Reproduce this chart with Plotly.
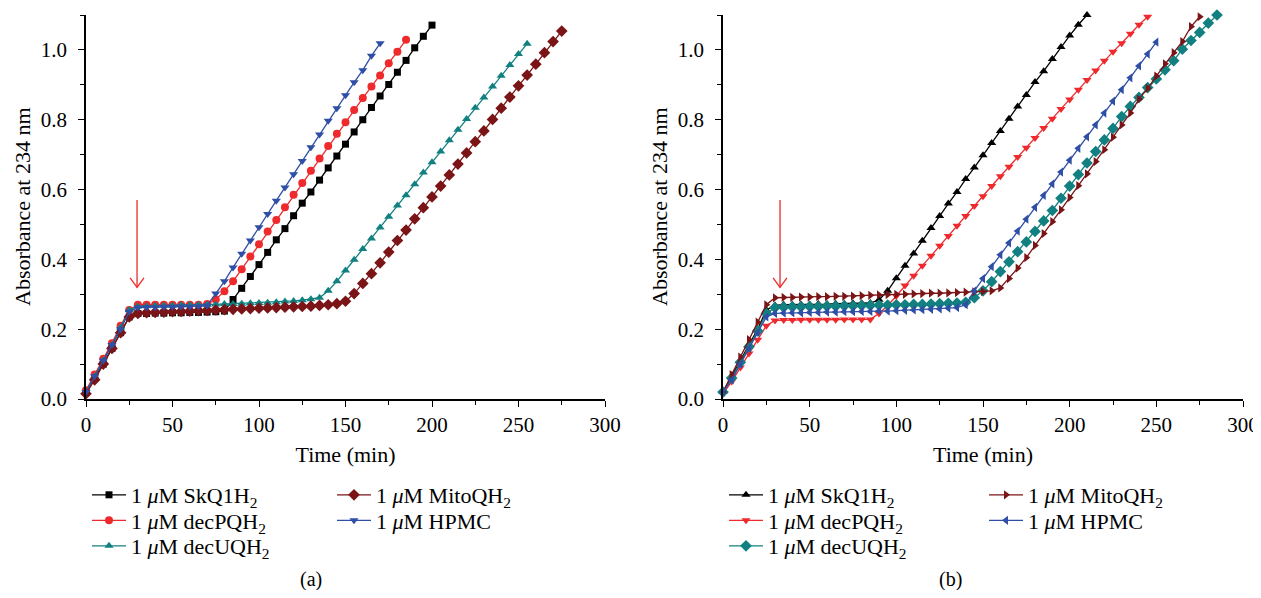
import plotly.graph_objects as go

# ---------------- data ----------------
labels = ["1 <i>μ</i>M SkQ1H<sub>2</sub>", "1 <i>μ</i>M decPQH<sub>2</sub>",
          "1 <i>μ</i>M decUQH<sub>2</sub>", "1 <i>μ</i>M MitoQH<sub>2</sub>",
          "1 <i>μ</i>M HPMC"]

# Panel (a)
t_a_skq = list(range(0, 205, 5))
a_skq = [0.02, 0.06, 0.10, 0.145, 0.19, 0.235,
         0.245, 0.245, 0.246, 0.246, 0.247, 0.247, 0.248, 0.248, 0.249, 0.250, 0.252,
         0.285, 0.317, 0.351, 0.385, 0.42, 0.456, 0.488, 0.525, 0.561, 0.593, 0.627, 0.662,
         0.696, 0.730, 0.765, 0.80, 0.835, 0.868, 0.901, 0.936, 0.97, 1.006, 1.039, 1.071]

t_a_pq = list(range(0, 190, 5))
a_pq = [0.025, 0.07, 0.115, 0.16, 0.21, 0.255,
        0.27, 0.27, 0.27, 0.27, 0.27, 0.27, 0.27, 0.27, 0.272,
        0.285, 0.309, 0.337, 0.372, 0.408, 0.443, 0.48, 0.513, 0.549, 0.585, 0.619, 0.654,
        0.689, 0.725, 0.76, 0.793, 0.828, 0.862, 0.895, 0.927, 0.962, 0.995, 1.029]

t_a_uq = list(range(0, 260, 5))
a_uq = [0.02, 0.065, 0.11, 0.155, 0.205, 0.255,
        0.265, 0.266, 0.267, 0.268, 0.268, 0.269, 0.269, 0.270, 0.270, 0.271, 0.272, 0.272,
        0.273, 0.274, 0.275, 0.276, 0.277, 0.279, 0.281, 0.283, 0.286, 0.29,
        0.31, 0.337, 0.368, 0.399, 0.43, 0.46, 0.491, 0.522, 0.554, 0.584, 0.615, 0.649,
        0.678, 0.709, 0.741, 0.771, 0.802, 0.834, 0.864, 0.895, 0.926, 0.957, 0.988, 1.018]

t_a_mito = list(range(0, 280, 5))
a_mito = [0.015, 0.055, 0.10, 0.145, 0.19, 0.235,
          0.245, 0.247, 0.248, 0.249, 0.250, 0.251, 0.252, 0.253, 0.254, 0.255, 0.256, 0.257,
          0.258, 0.259, 0.260, 0.261, 0.262, 0.263, 0.264, 0.265, 0.266, 0.268, 0.270, 0.273, 0.28,
          0.302, 0.331, 0.359, 0.39, 0.421, 0.454, 0.484, 0.516, 0.548, 0.579, 0.61, 0.642,
          0.673, 0.705, 0.737, 0.768, 0.801, 0.833, 0.865, 0.897, 0.928, 0.959, 0.992, 1.024, 1.054]

t_a_hpmc = list(range(0, 175, 5))
a_hpmc = [0.02, 0.065, 0.11, 0.155, 0.2, 0.25,
          0.262, 0.263, 0.263, 0.264, 0.264, 0.265, 0.265, 0.266, 0.268,
          0.302, 0.337, 0.377, 0.416, 0.454, 0.492, 0.53, 0.568, 0.606, 0.644, 0.682, 0.721,
          0.758, 0.797, 0.833, 0.87, 0.907, 0.942, 0.983, 1.019]

# Panel (b)
t_b_skq = list(range(0, 215, 5))
b_skq = [0.02, 0.065, 0.11, 0.155, 0.2, 0.255,
         0.268, 0.27, 0.27, 0.271, 0.271, 0.272, 0.272, 0.273, 0.273, 0.274, 0.274, 0.275, 0.284,
         0.31, 0.346, 0.382, 0.417, 0.453, 0.49, 0.524, 0.56, 0.593, 0.63, 0.663, 0.698, 0.733,
         0.768, 0.803, 0.838, 0.871, 0.908, 0.939, 0.974, 1.008, 1.041, 1.072, 1.10]

t_b_pq = list(range(0, 250, 5))
b_pq = [0.015, 0.05, 0.09, 0.13, 0.17, 0.21,
        0.225, 0.226, 0.226, 0.227, 0.227, 0.227, 0.227, 0.227, 0.228, 0.228, 0.228, 0.228,
        0.245, 0.268, 0.295, 0.325, 0.353, 0.382, 0.41, 0.439, 0.467, 0.496, 0.524, 0.553,
        0.581, 0.61, 0.638, 0.665, 0.693, 0.72, 0.748, 0.776, 0.803, 0.831, 0.858, 0.886,
        0.914, 0.941, 0.969, 0.995, 1.019, 1.046, 1.072, 1.095]

t_b_uq = list(range(0, 290, 5))
b_uq = [0.02, 0.06, 0.105, 0.15, 0.195, 0.245,
        0.262, 0.263, 0.264, 0.264, 0.265, 0.265, 0.266, 0.266, 0.267, 0.267, 0.268, 0.268,
        0.269, 0.269, 0.27, 0.27, 0.271, 0.271, 0.272, 0.273, 0.274, 0.275, 0.277,
        0.29, 0.31, 0.336, 0.365, 0.393, 0.422, 0.45, 0.48, 0.51, 0.54, 0.575, 0.61, 0.643,
        0.676, 0.709, 0.742, 0.775, 0.809, 0.838, 0.864, 0.892, 0.917, 0.943, 0.969, 1.002,
        1.027, 1.05, 1.077, 1.10]

t_b_mito = list(range(0, 280, 5))
b_mito = [0.02, 0.07, 0.12, 0.17, 0.22, 0.27,
          0.290, 0.291, 0.291, 0.292, 0.292, 0.293, 0.293, 0.294, 0.294, 0.295, 0.296, 0.297,
          0.298, 0.299, 0.300, 0.300, 0.301, 0.302, 0.303, 0.303, 0.304, 0.305, 0.306, 0.307,
          0.308, 0.310, 0.318,
          0.345, 0.375, 0.405, 0.44, 0.474, 0.508, 0.542, 0.577, 0.611, 0.645, 0.68, 0.714,
          0.75, 0.785, 0.819, 0.859, 0.89, 0.925, 0.96, 0.992, 1.024, 1.067, 1.095]

t_b_hpmc = list(range(0, 255, 5))
b_hpmc = [0.02, 0.055, 0.1, 0.145, 0.19, 0.235,
          0.245, 0.246, 0.247, 0.247, 0.248, 0.248, 0.249, 0.249, 0.250, 0.250, 0.251, 0.251,
          0.252, 0.252, 0.253, 0.254, 0.255, 0.256, 0.257, 0.258, 0.260, 0.262, 0.27,
          0.31, 0.345, 0.379, 0.413, 0.447, 0.481, 0.515, 0.549, 0.583, 0.616, 0.650, 0.684,
          0.718, 0.751, 0.785, 0.819, 0.853, 0.886, 0.920, 0.954, 0.988, 1.022]

# arrow marking the addition time (x in min, y from/to absorbance)
arrow_a = [29.5, 0.57, 0.32]
arrow_b = [32.9, 0.57, 0.32]

x_ticks = [0, 50, 100, 150, 200, 250, 300]
y_ticks = [0.0, 0.2, 0.4, 0.6, 0.8, 1.0]
x_title = "Time (min)"
y_title = "Absorbance at 234 nm"

# ---------------- styling ----------------
BLACK, RED, TEAL, MAROON, BLUE = "#000000", "#EE2A2D", "#128080", "#7A1416", "#2F4FA6"
FONT = "Liberation Serif"
FS_TICK = 21
FS_TITLE = 22
FS_LEG = 22

# page body has an 8px margin: figure placed at (8, 8); keep it inside the window
OFF = 8
W, H = 1261 - OFF, 598 - 2 * OFF
PL, PR, PT, PB = 86, 1243, 15, 399          # plot-area edges in page pixels
ML, MR, MT, MB = PL - OFF, W - (PR - OFF), PT - OFF, H - (PB - OFF)
PW = W - ML - MR
PH = H - MT - MB


def pxx(p):      # page pixel -> paper x
    return (p - OFF - ML) / PW


def pxy(p):      # page pixel -> paper y
    return (H - MB - (p - OFF)) / PH


def cx(p):       # page pixel -> container x
    return (p - OFF) / W


def cy(p):       # page pixel -> container y
    return (H - (p - OFF)) / H


fig = go.Figure()

panel_a = [
    (t_a_skq, a_skq, BLACK, "square", 7),
    (t_a_pq, a_pq, RED, "circle", 8),
    (t_a_uq, a_uq, TEAL, "triangle-up", 8),
    (t_a_mito, a_mito, MAROON, "diamond", 9),
    (t_a_hpmc, a_hpmc, BLUE, "triangle-down", 8),
]
panel_b = [
    (t_b_skq, b_skq, BLACK, "triangle-up", 8),
    (t_b_pq, b_pq, RED, "triangle-down", 8),
    (t_b_uq, b_uq, TEAL, "diamond", 9),
    (t_b_mito, b_mito, MAROON, "triangle-right", 8),
    (t_b_hpmc, b_hpmc, BLUE, "triangle-left", 8),
]

# legend box left edge and row centre, page pixels
leg_cols_a = [87, 87, 87, 332, 332]
leg_cols_b = [724, 724, 724, 984, 984]
leg_rows = [495, 520.5, 546, 495, 520.5]

legend_layouts = {}
k = 1
for panel, xa, ya, cols in [(panel_a, "x", "y", leg_cols_a), (panel_b, "x2", "y2", leg_cols_b)]:
    for i, (t, v, col, sym, sz) in enumerate(panel):
        name = "legend" if k == 1 else f"legend{k}"
        fig.add_trace(go.Scatter(
            x=t, y=v, name=labels[i], mode="lines+markers",
            line=dict(color=col, width=1.3),
            marker=dict(color=col, symbol=sym, size=sz, line=dict(width=0)),
            xaxis=xa, yaxis=ya, cliponaxis=False, legend=name, showlegend=True))
        legend_layouts[name] = dict(
            x=cx(cols[i]), y=cy(leg_rows[i]), xref="container", yref="container",
            xanchor="left", yanchor="middle",
            bgcolor="rgba(0,0,0,0)", borderwidth=0, itemwidth=34,
            font=dict(family=FONT, size=FS_LEG, color="black"), tracegroupgap=0)
        k += 1

axis_common = dict(showline=True, linecolor="black", linewidth=1.5, ticks="outside",
                   ticklen=6, tickwidth=1.3, tickcolor="black", showgrid=False,
                   zeroline=False, tickfont=dict(family=FONT, size=FS_TICK, color="black"),
                   mirror=False, automargin=False, ticklabeloverflow="allow")

dom_a = [0, pxx(605)]
dom_b = [pxx(723), 1]

xaxis_common = dict(axis_common, range=[0, 300], tickvals=x_ticks,
                    minor=dict(ticks="outside", ticklen=4, tickwidth=1.2, tickcolor="black", dtick=25),
                    title=dict(text=x_title, font=dict(family=FONT, size=FS_TITLE, color="black"),
                               standoff=11))
yaxis_common = dict(axis_common, range=[0, 1.1], tickvals=y_ticks, tickformat=".1f",
                    ticklabelstandoff=7,
                    minor=dict(ticks="outside", ticklen=4, tickwidth=1.2, tickcolor="black", dtick=0.1))

shapes = []
for (ax, ay, arr) in [("x", "y", arrow_a), ("x2", "y2", arrow_b)]:
    x0, yt, yb = arr
    shapes.append(dict(type="line", xref=ax, yref=ay, x0=x0, x1=x0, y0=yt, y1=yb,
                       line=dict(color="#EE2A2D", width=1.3)))
    shapes.append(dict(type="path", xref=ax, yref=ay,
                       path=f"M {x0-4} {yb+0.027} L {x0} {yb} L {x0+4} {yb+0.027}",
                       line=dict(color="#EE2A2D", width=1.3)))

annotations = []
for px_x in (22, 659):
    annotations.append(dict(text=y_title, x=pxx(px_x), y=0.5, xref="paper", yref="paper",
                            xanchor="center", yanchor="middle", textangle=-90, showarrow=False,
                            font=dict(family=FONT, size=FS_TITLE, color="black")))
for txt, px_x in (("(a)", 311), ("(b)", 950)):
    annotations.append(dict(text=txt, x=pxx(px_x), y=pxy(579), xref="paper", yref="paper",
                            xanchor="center", yanchor="middle", showarrow=False,
                            font=dict(family=FONT, size=FS_TITLE - 2, color="black")))

fig.update_layout(
    width=W, height=H,
    margin=dict(l=ML, r=MR, t=MT, b=MB, autoexpand=False),
    paper_bgcolor="white", plot_bgcolor="white",
    font=dict(family=FONT, size=FS_TITLE, color="black"),
    xaxis=dict(xaxis_common, domain=dom_a, anchor="y"),
    yaxis=dict(yaxis_common, domain=[0, 1], anchor="x"),
    xaxis2=dict(xaxis_common, domain=dom_b, anchor="y2"),
    yaxis2=dict(yaxis_common, domain=[0, 1], anchor="x2"),
    shapes=shapes,
    annotations=annotations,
    **legend_layouts,
)

fig.write_html("out.html")
